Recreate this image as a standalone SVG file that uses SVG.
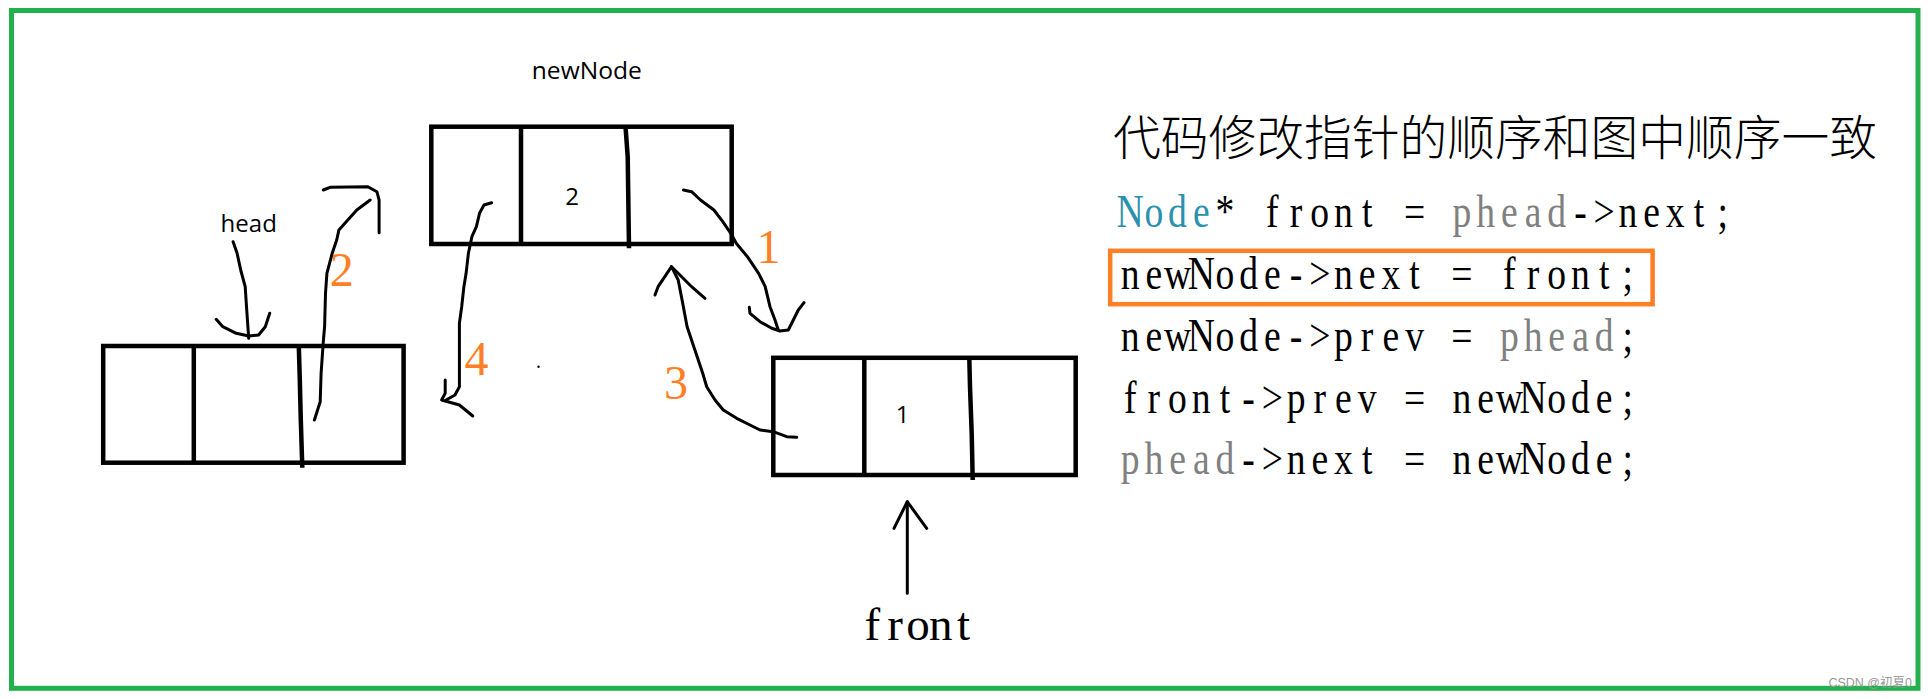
<svg xmlns="http://www.w3.org/2000/svg" width="1928" height="699" viewBox="0 0 1928 699">
<style>
.box{fill:none;stroke:#000;stroke-width:4.5;stroke-linejoin:miter}
.div{fill:none;stroke:#000;stroke-width:4.5;stroke-linecap:butt}
.hand{fill:none;stroke:#000;stroke-width:3;stroke-linecap:round;stroke-linejoin:round}
.lbl{font-family:"Open Sans","Noto Sans",sans-serif;font-size:24px;fill:#000}
.num{font-family:"Liberation Serif",serif;font-size:48px;fill:#ff7f27;text-anchor:middle}
.code{font-family:"Liberation Serif",serif;font-size:47px;fill:#000;text-anchor:middle}
.teal{fill:#2b91af}
.gray{fill:#808080}
</style>
<rect x="0" y="0" width="1928" height="699" fill="#fff"/>
<rect x="11.5" y="10.5" width="1906.5" height="677.8" fill="none" stroke="#22b14c" stroke-width="5"/>

<g id="node-head">
<rect class="box" x="103.2" y="346" width="300.4" height="116.7"/>
<line class="div" x1="193.8" y1="346" x2="193.8" y2="462.7"/>
<path class="div" d="M298.8,346 L299.8,380 L300.8,420 L302.3,467.7"/>
<text class="lbl" x="220.6" y="231.7">head</text>
</g>

<g id="node-newNode">
<rect class="box" x="431.3" y="126.7" width="300.4" height="117.3"/>
<line class="div" x1="521" y1="126.7" x2="521" y2="244"/>
<path class="div" d="M625.5,126.7 L627.7,156.7 L629,248.3"/>
<text class="lbl" x="572" y="205" text-anchor="middle">2</text>
<text class="lbl" x="531.8" y="79.3" textLength="110" lengthAdjust="spacingAndGlyphs">newNode</text>
</g>

<g id="node-front">
<rect class="box" x="773.3" y="357.8" width="302.4" height="117.2"/>
<line class="div" x1="864.3" y1="357.8" x2="864.3" y2="475"/>
<path class="div" d="M969.3,357.8 L970,386.7 L971.7,433.3 L972.7,480"/>
<text class="lbl" x="902.5" y="423.3" text-anchor="middle">1</text>
<text class="code" y="640" font-size="46" x="872.4 895.2 918 940.8 963.6">front</text>
</g>

<g id="connectors">
<polyline class="hand" points="233.1,241.7 237.1,253.3 240.7,270 245.2,286.7 246.5,306.7 248.7,338.3"/>
<polyline class="hand" points="216.2,319.3 222.8,326.7 236.2,333.3 248.7,336 258.6,335 265.3,326.7 269.7,313.3"/>
<polyline class="hand" points="314.4,420 320.2,401.7 321.1,373.3 323.3,341.7 324.6,326.7 325.5,293.3 326.9,273.3 332.2,253.3 336.7,240 338.9,230 347.8,220 356.8,210 370.2,200"/>
<polyline class="hand" points="323.3,190 330,187.3 367.9,186.7 376.9,191.7 379.1,200 379.1,232.7"/>
<polyline class="hand" points="491.6,202.7 484,205 479.5,213.3 476.4,226.7 471.9,236.7 468.4,253.3 466.1,273.3 463.9,286.7 461.7,306.7 459.4,323.3 459.4,386.7 455,395 446.1,400"/>
<polyline class="hand" points="445.2,380 445.2,393.3 441.6,400 459.4,405 472.8,416"/>
<polyline class="hand" points="683.5,190 691.6,191.7 700.5,200 713.9,210 722.8,221.7 731.8,235 736.2,243.3 747.4,256.7 758.6,273.3 765.2,286.7 770,306.7 775,320 778.3,330"/>
<polyline class="hand" points="749.3,307.3 750,313.3 760,321.7 771.7,328.3 780,331 788.3,330 793.3,320 798.3,310 804,302.7"/>
<polyline class="hand" points="796.7,437.3 786.7,436.7 773.3,431.7 760,430 750,425 736.7,418.3 723.3,410 715,400 706.7,386.7 702.7,373.3 696,353.3 687.1,326.7 682.7,303.3 678.2,280 671.5,266.7"/>
<polyline class="hand" points="655,295 658.1,286.7 664.8,276.7 671.5,266.7 678.2,273.3 691.6,286.7 705,298.3"/>
<line class="hand" x1="907.3" y1="501.7" x2="907.3" y2="593.3"/>
<polyline class="hand" points="894,528.3 907.3,501.7 926.7,528.3"/>
<circle cx="538.5" cy="366.7" r="1.2" fill="#000"/>
</g>

<g id="step-labels">
<text class="num" x="768.5" y="262.7">1</text>
<text class="num" x="341.8" y="286">2</text>
<text class="num" x="676" y="399">3</text>
<text class="num" x="476.6" y="375">4</text>
</g>

<g id="code">
<text x="1113" y="155" font-family="'Noto Sans CJK SC',sans-serif" font-size="47.8" font-weight="300" textLength="764" lengthAdjust="spacingAndGlyphs" fill="#000">代码修改指针的顺序和图中顺序一致</text>
<rect x="1110.2" y="250.8" width="542.4" height="53.4" fill="none" stroke="#ff7f27" stroke-width="4.5"/>
<g transform="scale(0.8,1)">
<text class="code" y="226.7" x="1412.7 1442.3 1471.9 1501.6 1531.2 1560.8 1590.4 1620.1 1649.7 1679.3 1708.9 1738.6 1768.2 1797.8 1827.4 1857.1 1886.7 1916.3 1945.9 1975.6 2005.2 2034.8 2064.4 2094.1 2123.7 2153.3"><tspan class="teal">Node</tspan>* front = <tspan class="gray">phead</tspan>-&gt;next;</text>
<text class="code" y="289" x="1412.7 1442.3 1471.9 1501.6 1531.2 1560.8 1590.4 1620.1 1649.7 1679.3 1708.9 1738.6 1768.2 1797.8 1827.4 1857.1 1886.7 1916.3 1945.9 1975.6 2005.2 2034.8">newNode-&gt;next = front;</text>
<text class="code" y="350.7" x="1412.7 1442.3 1471.9 1501.6 1531.2 1560.8 1590.4 1620.1 1649.7 1679.3 1708.9 1738.6 1768.2 1797.8 1827.4 1857.1 1886.7 1916.3 1945.9 1975.6 2005.2 2034.8">newNode-&gt;prev = <tspan class="gray">phead</tspan>;</text>
<text class="code" y="412.7" x="1412.7 1442.3 1471.9 1501.6 1531.2 1560.8 1590.4 1620.1 1649.7 1679.3 1708.9 1738.6 1768.2 1797.8 1827.4 1857.1 1886.7 1916.3 1945.9 1975.6 2005.2 2034.8">front-&gt;prev = newNode;</text>
<text class="code" y="474.3" x="1412.7 1442.3 1471.9 1501.6 1531.2 1560.8 1590.4 1620.1 1649.7 1679.3 1708.9 1738.6 1768.2 1797.8 1827.4 1857.1 1886.7 1916.3 1945.9 1975.6 2005.2 2034.8"><tspan class="gray">phead</tspan>-&gt;next = newNode;</text>
</g>
</g>

<text x="1912" y="687" text-anchor="end" font-family="'Liberation Sans','Noto Sans CJK SC',sans-serif" font-size="12.5" fill="#999">CSDN @初夏0</text>
</svg>
